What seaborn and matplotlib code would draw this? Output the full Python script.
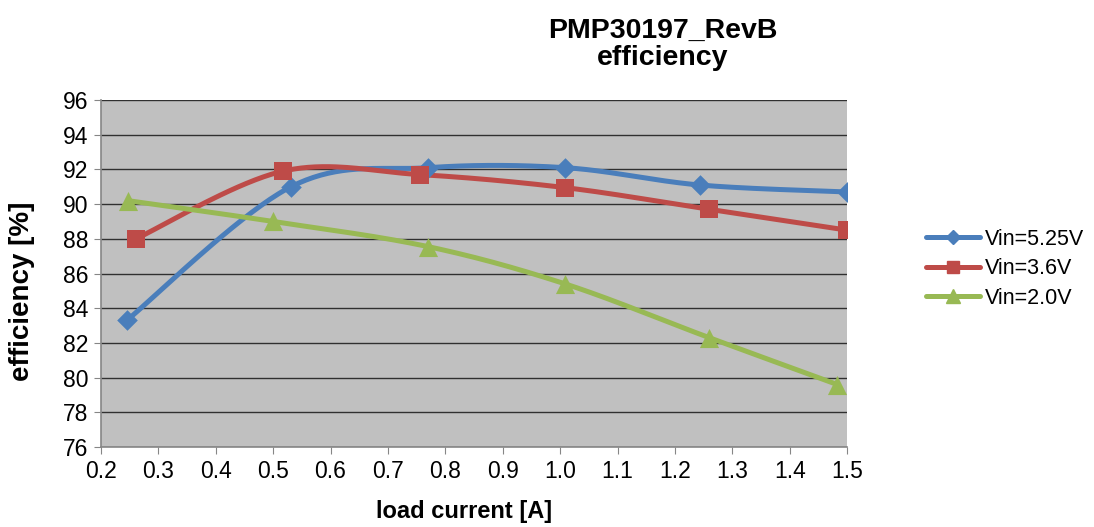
import numpy as np
import pandas as pd
import matplotlib
matplotlib.use("Agg")
import matplotlib.pyplot as plt
import seaborn as sns
from matplotlib.lines import Line2D

# values
series_names = ["Vin=5.25V", "Vin=3.6V", "Vin=2.0V"]
current_525 = [0.245, 0.531, 0.770, 1.009, 1.244, 1.500]
eff_525 = [83.3, 91.0, 92.1, 92.1, 91.1, 90.7]
current_36 = [0.261, 0.517, 0.756, 1.009, 1.260, 1.500]
eff_36 = [88.0, 91.9, 91.7, 90.95, 89.7, 88.5]
current_20 = [0.247, 0.500, 0.770, 1.009, 1.260, 1.483]
eff_20 = [90.2, 89.0, 87.55, 85.4, 82.3, 79.6]

colors = ["#4A7EBB", "#BE4B48", "#98B954"]
markers = ["D", "s", "^"]
marker_sizes = [110, 150, 190]


def excel_smooth(x, y, n=40):
    # Excel style smoothed line: Catmull-Rom like bezier through the points
    x = np.asarray(x, float)
    y = np.asarray(y, float)
    px, py = [], []
    m = len(x)
    for i in range(m - 1):
        i0 = max(i - 1, 0)
        i3 = min(i + 2, m - 1)
        c1x = x[i] + (x[i + 1] - x[i0]) / 6
        c1y = y[i] + (y[i + 1] - y[i0]) / 6
        c2x = x[i + 1] - (x[i3] - x[i]) / 6
        c2y = y[i + 1] - (y[i3] - y[i]) / 6
        t = np.linspace(0, 1, n)
        b0 = (1 - t) ** 3
        b1 = 3 * (1 - t) ** 2 * t
        b2 = 3 * (1 - t) * t ** 2
        b3 = t ** 3
        px.extend(b0 * x[i] + b1 * c1x + b2 * c2x + b3 * x[i + 1])
        py.extend(b0 * y[i] + b1 * c1y + b2 * c2y + b3 * y[i + 1])
    return np.array(px), np.array(py)


sns.set_style("white")
plt.rcParams["font.family"] = ["Liberation Sans", "DejaVu Sans"]
plt.rcParams["text.color"] = "black"
plt.rcParams["axes.labelcolor"] = "black"
plt.rcParams["xtick.color"] = "black"
plt.rcParams["ytick.color"] = "black"

fig = plt.figure(figsize=(10.94, 5.27), dpi=100)
ax = fig.add_axes([0.0923, 0.1518, 0.682, 0.6584])
ax.set_facecolor("#C0C0C0")

data = [(current_525, eff_525), (current_36, eff_36), (current_20, eff_20)]
for (xs, ys), name, c, mk, ms in zip(data, series_names, colors, markers, marker_sizes):
    sx, sy = excel_smooth(xs, ys)
    sns.lineplot(x=sx, y=sy, sort=False, color=c, linewidth=3.6, ax=ax,
                 estimator=None, zorder=3)
    sns.scatterplot(x=xs, y=ys, marker=mk, s=ms, color=c, edgecolor=c,
                    linewidth=0, ax=ax, zorder=4)

ax.set_xlim(0.2, 1.5)
ax.set_ylim(76, 96)
ax.set_xticks(np.arange(0.2, 1.51, 0.1))
ax.set_xticklabels([f"{v:.1f}" for v in np.arange(0.2, 1.51, 0.1)])
ax.set_yticks(np.arange(76, 97, 2))
ax.yaxis.grid(True, color="black", linewidth=1.0, alpha=0.75)
ax.set_axisbelow(True)
ax.tick_params(axis="both", labelsize=16.5, length=5, direction="out",
               color="#868686", left=True, bottom=True, pad=4)
for side in ["top", "right"]:
    ax.spines[side].set_visible(False)
for side in ["left", "bottom"]:
    ax.spines[side].set_color("#868686")
    ax.spines[side].set_linewidth(1.2)

ax.set_xlabel("load current [A]", fontsize=17, fontweight="bold", va="center")
ax.xaxis.set_label_coords(0.4866, -0.187)
ax.set_ylabel("efficiency [%]", fontsize=20, fontweight="bold", va="center")
ax.yaxis.set_label_coords(-0.106, 0.45)

fig.text(0.6056, 0.928, "PMP30197_RevB", ha="center", va="baseline",
         fontsize=20.5, fontweight="bold")
fig.text(0.6056, 0.877, "efficiency", ha="center", va="baseline",
         fontsize=20.5, fontweight="bold")

handles = [Line2D([0], [0], color=c, lw=3.6, marker=mk, markersize=ms ** 0.5 * 0.7)
           for c, mk, ms in zip(colors, markers, marker_sizes)]
fig.legend(handles, series_names, loc="center left", bbox_to_anchor=(0.846, 0.49),
           frameon=False, fontsize=15.5, handlelength=2.55, handletextpad=0.2,
           labelspacing=0.4, borderaxespad=0, borderpad=0)

fig.savefig("out.png", dpi=100)
